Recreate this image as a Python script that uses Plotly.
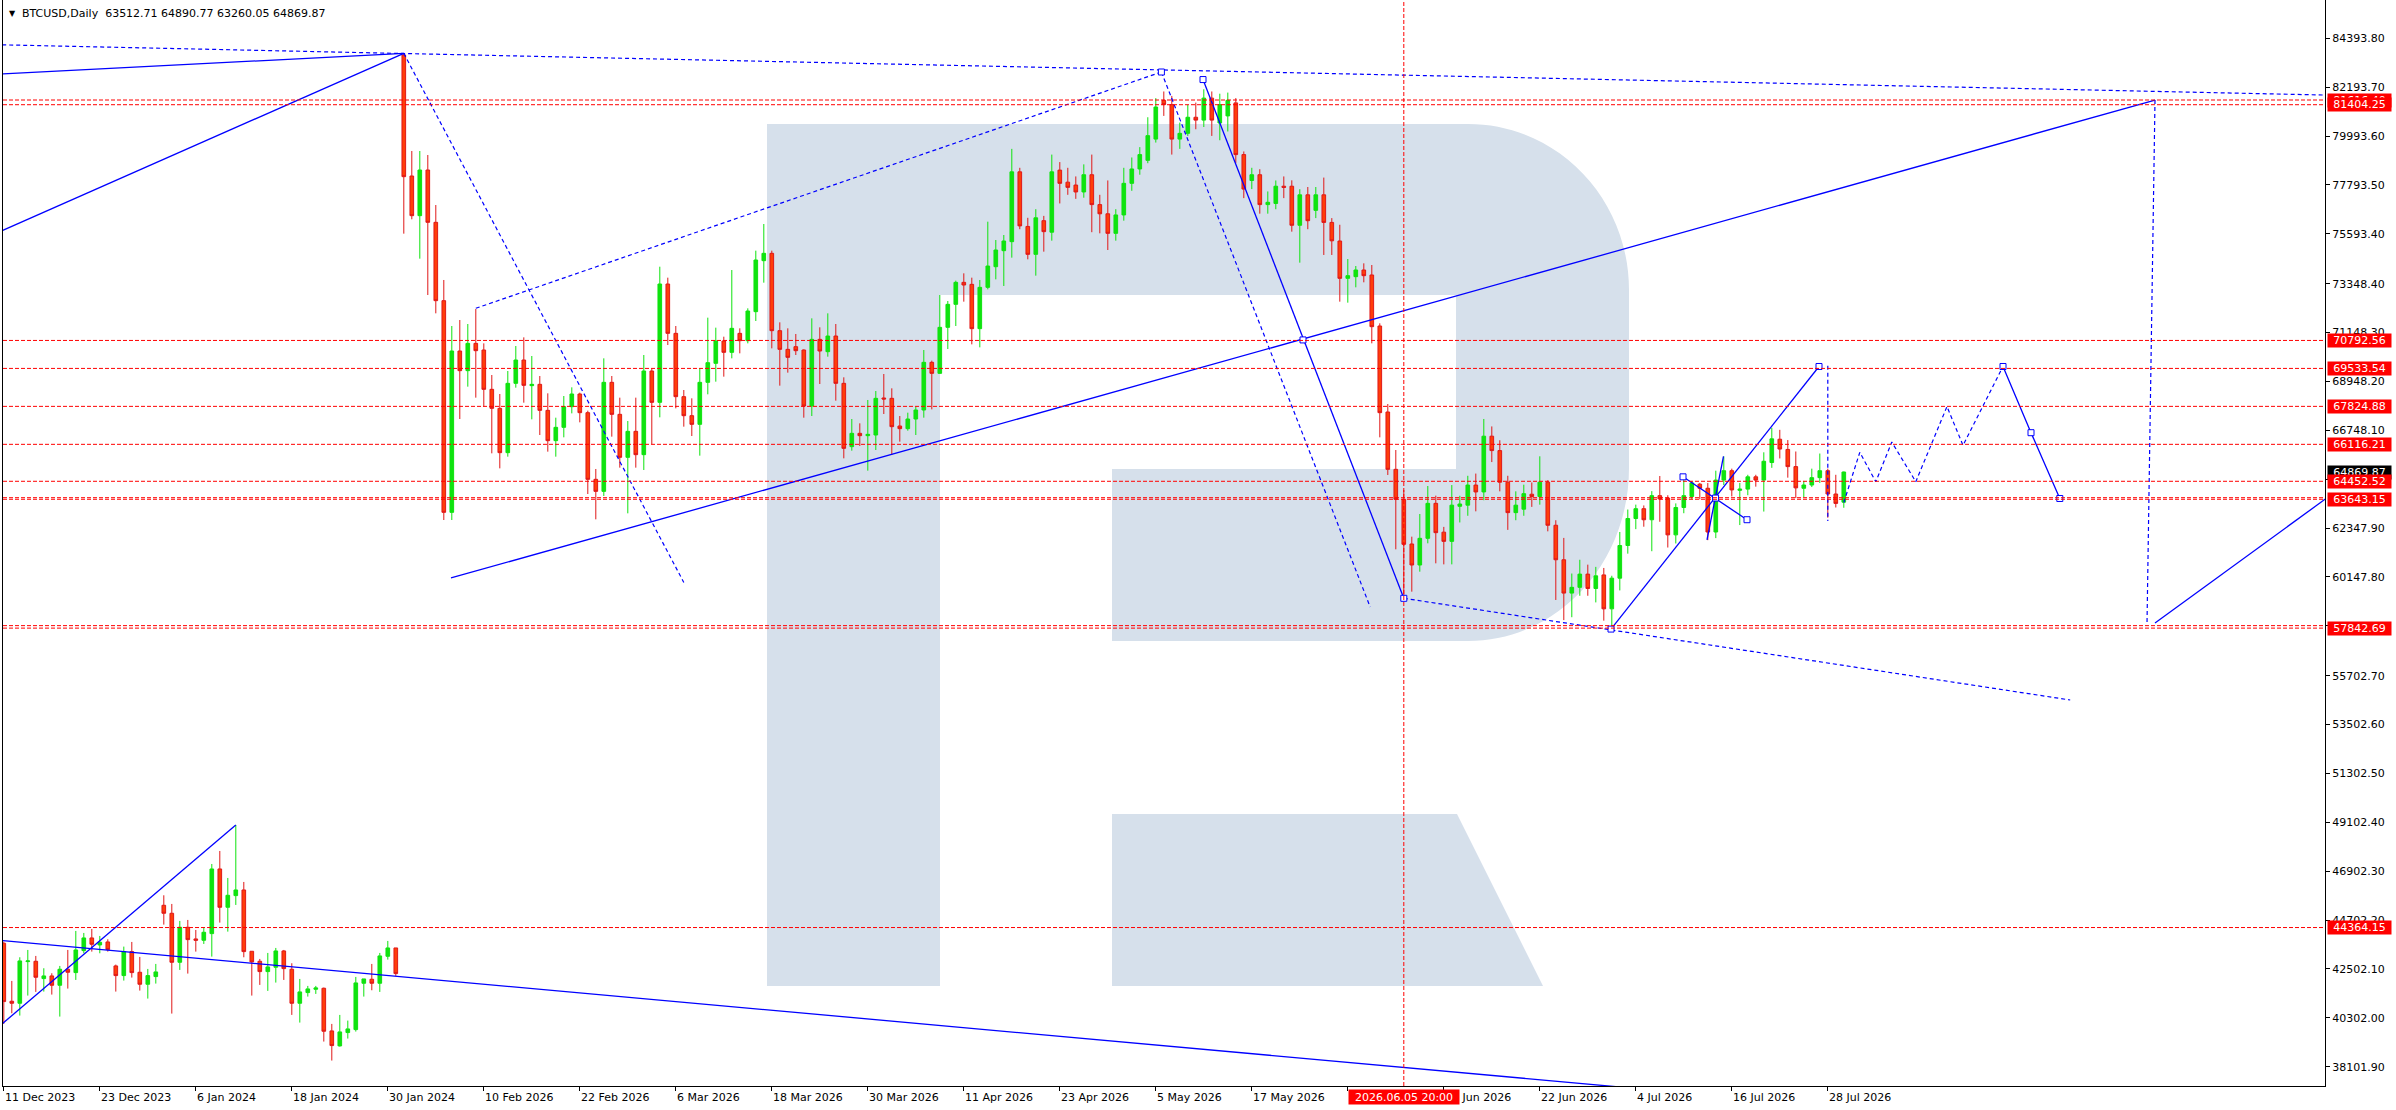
import plotly.graph_objects as go

# ---------------- data ----------------
x_tick_pos = [0, 12, 24, 36, 48, 60, 72, 84, 96, 108, 120, 132, 144, 156, 168, 180, 192, 204, 216, 228]
x_tick_text = ["11 Dec 2023", "23 Dec 2023", "6 Jan 2024", "18 Jan 2024", "30 Jan 2024",
               "10 Feb 2026", "22 Feb 2026", "6 Mar 2026", "18 Mar 2026", "30 Mar 2026",
               "11 Apr 2026", "23 Apr 2026", "5 May 2026", "17 May 2026", "29 May 2026",
               "10 Jun 2026", "22 Jun 2026", "4 Jul 2026", "16 Jul 2026", "28 Jul 2026"]

y_tick_vals = [84393.80, 82193.70, 79993.60, 77793.50, 75593.40, 73348.40, 71148.30, 68948.20,
               66748.10, 64548.00, 62347.90, 60147.80, 57947.70, 55702.70, 53502.60, 51302.50,
               49102.40, 46902.30, 44702.20, 42502.10, 40302.00, 38101.90]

open_ = [43656, 41046, 40956, 42831, 42846, 42066, 42186, 41766, 42486, 42336,
         43326, 43896, 43581, 43716, 42636, 42201, 43281, 42351, 41811, 42156,
         45366, 45006, 42801, 44376, 43851, 43791, 44091, 47001, 45276, 45801,
         46056, 43296, 42846, 42381, 42576, 43311, 42486, 40956, 41436, 41586,
         41631, 39711, 39036, 39636, 39771, 41856, 42036, 41856, 43071, 43446,
         83642, 78195, 76410, 78465, 76110, 72583, 63055, 70317, 69432, 70662,
         70362, 68592, 67736, 65741, 68862, 69912, 68757, 68817, 67646, 66281,
         66881, 67811, 68382, 67541, 64540, 63999, 68907, 67466, 65531, 66701,
         65651, 69417, 68007, 73333, 71112, 68262, 67406, 67016, 68907, 69762,
         70767, 70257, 71112, 70782, 72088, 74384, 74714, 71233, 70392, 70512,
         70362, 67841, 70842, 70287, 70992, 68862, 66011, 66611, 66506, 66536,
         68202, 68187, 66941, 66821, 67256, 67661, 69807, 69312, 71383, 72418,
         73408, 73318, 71323, 73183, 74113, 74834, 75239, 78383, 75925, 74669,
         76184, 75666, 78460, 77917, 77788, 77477, 78253, 76908, 76494, 75614,
         76442, 77865, 78512, 78900, 79857, 81600, 81409, 79857, 80116, 80840,
         80711, 81700, 80581, 80900, 81487, 79159, 77994, 78253, 76908, 76960,
         77735, 77735, 75977, 77348, 76649, 77348, 76106, 75269, 73589, 73664,
         73964, 73739, 71443, 67572, 64991, 63640, 61630, 60684, 61885, 63460,
         62162, 61748, 63327, 63378, 64283, 63973, 66482, 65835, 64412, 63041,
         63197, 63870, 63766, 64412, 62473, 60920, 59420, 59679, 60274, 59627,
         60238, 58711, 60091, 61562, 62776, 63218, 62721, 63806, 63696, 62041,
         63273, 63770, 64322, 64138, 62169, 64506, 64929, 64046, 64101, 64653,
         64506, 65297, 66346, 65886, 65113, 64138, 64285, 64616, 64929, 63880,
         63512.71]
high = [43731, 41961, 43026, 43356, 43086, 42531, 42306, 42636, 43356, 44211,
        44121, 44301, 43986, 43836, 42696, 43506, 43716, 43041, 42501, 42726,
        45816, 45426, 44661, 44706, 44256, 44361, 47226, 47811, 46596, 48981,
        46416, 43296, 42951, 43221, 43446, 43356, 42756, 42051, 41736, 41736,
        41661, 40026, 40431, 40176, 42141, 42051, 42726, 43221, 43761, 43446,
        83717, 79320, 79320, 79140, 76889, 73514, 71443, 71713, 71533, 72208,
        70662, 69237, 68382, 69417, 70542, 70932, 70092, 69192, 68412, 67316,
        68292, 68682, 68442, 67631, 65006, 69987, 69192, 68217, 67166, 68217,
        70137, 69507, 74113, 73619, 71443, 68562, 68187, 69537, 71818, 71368,
        70962, 73963, 71338, 72238, 74834, 76034, 74834, 71608, 71338, 71083,
        70392, 71788, 71383, 72013, 71533, 69132, 67256, 67061, 68112, 68517,
        69282, 68637, 67391, 67541, 67811, 70362, 69882, 72838, 72568, 73484,
        73814, 73619, 73514, 76139, 75314, 75539, 79417, 78564, 76313, 76701,
        76400, 79159, 78822, 78564, 78176, 78719, 79159, 77348, 77995, 76701,
        78564, 79029, 79495, 80840, 81700, 82000, 81800, 80600, 81400, 81500,
        82100, 82000, 81900, 81950, 81700, 79300, 78564, 78500, 77500, 77994,
        78176, 78000, 77600, 77700, 77700, 78124, 76300, 76000, 74459, 74144,
        74264, 74189, 71563, 67932, 65861, 64060, 61960, 62980, 64240, 63805,
        62400, 64283, 63800, 64700, 64800, 67258, 66922, 66300, 64700, 64000,
        64300, 64400, 65577, 64500, 62700, 61903, 60300, 60920, 60700, 60600,
        60551, 60200, 62170, 63181, 63402, 63365, 64009, 64690, 63825, 63457,
        64653, 64469, 64377, 64377, 64929, 65573, 65021, 64377, 64745, 64745,
        65757, 66861, 66769, 66309, 65794, 64469, 65021, 65702, 65021, 64745,
        64890.77]
low = [40026, 40506, 40401, 41301, 41466, 41481, 41346, 40356, 41616, 42006,
       43206, 43281, 43206, 43281, 41481, 41976, 42111, 41526, 41166, 41841,
       44496, 40491, 42456, 42291, 43281, 43626, 43056, 44586, 44181, 45381,
       43026, 41301, 41781, 41511, 41886, 42006, 40431, 40086, 41256, 41376,
       39231, 38376, 39006, 39366, 39681, 41256, 41541, 41466, 42921, 42186,
       75599, 76245, 74474, 72838, 72013, 62710, 62710, 67256, 68712, 68217,
       67811, 65711, 65035, 65561, 68667, 67991, 67241, 66536, 65786, 65561,
       66431, 67511, 67106, 63880, 62740, 63790, 66461, 65066, 63010, 65066,
       64961, 66131, 67331, 70587, 67736, 66911, 66491, 65606, 68367, 68937,
       69162, 69987, 70212, 70662, 71668, 73393, 70437, 68757, 69342, 70137,
       67316, 67391, 68832, 70062, 68082, 65486, 65831, 66041, 64931, 65861,
       67481, 65636, 66236, 66731, 66536, 67316, 67691, 69282, 70407, 71443,
       72538, 70617, 70482, 73093, 73543, 73244, 74519, 75800, 74444, 73709,
       74789, 75284, 76960, 77348, 77167, 77218, 75666, 75614, 74864, 75284,
       76184, 77529, 78253, 78771, 79700, 80900, 79159, 79417, 80000, 80300,
       80400, 80000, 79805, 80200, 78771, 77200, 77606, 76500, 76500, 76700,
       77200, 75690, 74294, 75800, 76300, 74640, 74640, 72538, 72493, 73183,
       73409, 70663, 66431, 64736, 61390, 59200, 59484, 60384, 61660, 60759,
       60713, 60713, 62600, 62900, 63100, 63600, 65318, 64000, 62265, 62700,
       62900, 63300, 63400, 62200, 59110, 58204, 58333, 59300, 59300, 59000,
       58178, 57843, 59540, 61195, 62298, 62408, 61305, 62630, 61471, 61654,
       63015, 63641, 63641, 61802, 61894, 64285, 63770, 62482, 63826, 64211,
       63090, 65058, 65481, 64616, 63696, 63733, 64193, 64377, 62813, 63273,
       63260.05]
close = [41031, 40956, 42861, 42861, 42126, 42186, 41766, 42486, 42351, 43356,
         43896, 43611, 43701, 43371, 42201, 43281, 42336, 41811, 42201, 42366,
         45006, 42801, 44376, 43821, 43791, 44151, 47001, 45276, 45816, 46056,
         43281, 42816, 42381, 42591, 43311, 42516, 40956, 41466, 41601, 41646,
         39696, 39051, 39666, 39801, 41871, 42051, 41856, 43086, 43446, 42291,
         78165, 76410, 78465, 76110, 72583, 63055, 70317, 69432, 70662, 70332,
         68592, 67736, 65741, 68862, 69912, 68772, 68817, 67646, 66281, 66881,
         67811, 68382, 67541, 64540, 63999, 68907, 67466, 65531, 66701, 65651,
         69417, 68007, 73333, 71112, 68262, 67406, 67016, 68907, 69792, 70767,
         70257, 71338, 70782, 72118, 74414, 74714, 71233, 70392, 70032, 70332,
         67841, 70842, 70317, 70992, 68862, 65936, 66611, 66506, 66566, 68187,
         68157, 66911, 66821, 67256, 67661, 69807, 69312, 71383, 72418, 73408,
         73288, 71323, 73183, 74143, 74864, 75269, 78383, 75950, 74669, 76313,
         75690, 78383, 77865, 77684, 77477, 78253, 76908, 76494, 75614, 76442,
         77865, 78512, 79159, 80012, 81300, 81410, 79857, 80116, 80840, 80711,
         81700, 80711, 81409, 81600, 79159, 77606, 78253, 76908, 77011, 77735,
         77684, 75977, 77348, 76183, 77348, 76106, 75278, 73589, 73709, 73964,
         73709, 71413, 67542, 64991, 63640, 61615, 60684, 61885, 63460, 62140,
         61748, 63378, 63430, 64283, 63973, 66482, 65835, 64412, 63041, 63378,
         63895, 63766, 64412, 62473, 60920, 59420, 59679, 60274, 59627, 60196,
         58711, 60091, 61562, 62776, 63218, 62721, 63806, 63659, 62041, 63273,
         63806, 64377, 64138, 62169, 64506, 64929, 64064, 64101, 64653, 64506,
         65353, 66364, 65904, 65113, 64156, 64285, 64616, 64929, 63880, 63457,
         64869.87]
bar_index = list(range(len(open_)))

# horizontal levels (red dashed) and their price labels
level_values = [81616.40, 81404.25, 70792.56, 69533.54, 67824.88, 66116.21, 64452.52,
                63714.00, 63643.15, 57955.00, 57842.69, 44364.15]
label_values = [81616.40, 81404.25, 70792.56, 69533.54, 67824.88, 66116.21, 64452.52,
                63643.15, 57842.69, 44364.15]
last_price = 64869.87
vline_bar = 175
vline_text = "2026.06.05 20:00"

# analysis drawings (bar index, price)
solid_lines = [
    [(-0.2, 75740), (50, 83717)],
    [(-0.2, 82787), (50, 83717)],
    [(55.9, 60100), (268.9, 81616)],
    [(149.9, 82537), (175, 59185)],
    [(268.9, 58074), (290.6, 63760)],
    [(200.9, 57800), (226.9, 69620)],
    [(209.9, 64653), (217.9, 62723)],
    [(212.9, 61810), (214.96, 65573)],
    [(249.9, 69620), (253.4, 66640), (257.0, 63678)],
    [(-0.2, 40030), (29, 48981)],
    [(-0.2, 43777), (210, 36925)],
]
dashed_lines = [
    [(-0.2, 84100), (290.6, 81835)],
    [(50, 83717), (85, 59900)],
    [(59, 72240), (144.7, 82877)],
    [(144.7, 82877), (170.8, 58793)],
    [(175, 59185), (258.3, 54607)],
    [(268.9, 81616), (267.9, 58030)],
    [(228, 69655), (228, 62670)],
    [(230, 63500), (232, 65757), (234, 64432), (236, 66217), (239, 64432),
     (242.9, 67817), (244.9, 66069), (249.9, 69620)],
]
anchor_points = [(144.7, 82877), (149.9, 82537), (162.4, 70816), (175, 59185),
                 (200.9, 57800), (209.9, 64653), (213.97, 63698), (217.9, 62723),
                 (226.9, 69620), (249.9, 69620), (253.4, 66640), (257.0, 63678)]

title_text = "BTCUSD,Daily  63512.71 64890.77 63260.05 64869.87"

# ---------------- layout geometry ----------------
W, H = 2396, 1110
ML, MR, MT, MB = 3, 71, 0, 24
PW, PH = W - ML - MR, H - MT - MB
X_RANGE = [-0.1, 290.15]
Y_RANGE = [37231, 86118]
FONT = "DejaVu Sans"
BLUE = "#0000ff"
RED = "#ff0000"


def px(xp):
    return (xp - ML) / PW


def py(yp):
    return 1 - (yp - MT) / PH


def P(a, b):
    return f"{px(a):.5f},{py(b):.5f}"


fig = go.Figure()

fig.add_trace(go.Candlestick(
    x=bar_index, open=open_, high=high, low=low, close=close,
    increasing=dict(line=dict(color="#0fe30f", width=1), fillcolor="#0fe30f"),
    decreasing=dict(line=dict(color="#e01818", width=1), fillcolor="#ff3d0a"),
    whiskerwidth=0, showlegend=False, hoverinfo="skip",
))

for seg in solid_lines:
    fig.add_trace(go.Scatter(x=[p[0] for p in seg], y=[p[1] for p in seg], mode="lines",
                             line=dict(color=BLUE, width=1.3), showlegend=False, hoverinfo="skip"))
for seg in dashed_lines:
    fig.add_trace(go.Scatter(x=[p[0] for p in seg], y=[p[1] for p in seg], mode="lines",
                             line=dict(color=BLUE, width=1.2, dash="4px,3px"),
                             showlegend=False, hoverinfo="skip"))
fig.add_trace(go.Scatter(x=[p[0] for p in anchor_points], y=[p[1] for p in anchor_points],
                         mode="markers",
                         marker=dict(symbol="square", size=6, color="white",
                                     line=dict(color=BLUE, width=1)),
                         showlegend=False, hoverinfo="skip"))

shapes = []
# watermark "R"
wm_color = "rgb(214,224,235)"
r_path = ("M " + P(767, 124) + " L " + P(1468, 124) + " C " + P(1557, 124) + " " + P(1629, 198) + " " +
          P(1629, 290) + " L " + P(1629, 468) + " C " + P(1629, 564) + " " + P(1557, 641) + " " +
          P(1468, 641) + " L " + P(1112, 641) + " L " + P(1112, 469) + " L " + P(1456, 469) +
          " L " + P(1456, 295) + " L " + P(940, 295) + " L " + P(940, 986) + " L " + P(767, 986) + " Z")
leg_path = "M " + P(1112, 814) + " L " + P(1457, 814) + " L " + P(1543, 986) + " L " + P(1112, 986) + " Z"
for pth in (r_path, leg_path):
    shapes.append(dict(type="path", path=pth, xref="paper", yref="paper",
                       fillcolor=wm_color, line=dict(width=0), layer="below"))

for v in level_values:
    shapes.append(dict(type="line", xref="paper", yref="y", x0=0, x1=1, y0=v, y1=v,
                       line=dict(color=RED, width=1, dash="4px,2px"), layer="above"))
shapes.append(dict(type="line", xref="x", yref="paper", x0=vline_bar, x1=vline_bar, y0=0, y1=1,
                   line=dict(color=RED, width=1, dash="4px,2px"), layer="above"))

annotations = []
# title
annotations.append(dict(text="▼", x=px(7), y=py(13), xref="paper", yref="paper",
                        xanchor="left", yanchor="middle", showarrow=False,
                        font=dict(family=FONT, size=8, color="black")))
annotations.append(dict(text=title_text, x=px(20), y=py(13), xref="paper", yref="paper",
                        xanchor="left", yanchor="middle", showarrow=False,
                        font=dict(family=FONT, size=11, color="black")))
# x tick labels (left aligned at tick)
for pos, txt in zip(x_tick_pos, x_tick_text):
    annotations.append(dict(text=txt, x=pos, y=py(1097), xref="x", yref="paper",
                            xanchor="left", yanchor="middle", showarrow=False, borderpad=0,
                            font=dict(family=FONT, size=11, color="black")))
# price label boxes
for v in label_values:
    annotations.append(dict(text=f"{v:.2f}", x=1, y=v, xref="paper", yref="y", xanchor="left",
                            yanchor="middle", xshift=2, showarrow=False, bgcolor=RED,
                            width=61, height=11, borderpad=1,
                            font=dict(family=FONT, size=11, color="white")))
    if v == 66116.21:
        annotations.append(dict(text=f"{last_price:.2f}", x=1, y=last_price, xref="paper", yref="y",
                                xanchor="left", yanchor="middle", xshift=2, showarrow=False,
                                bgcolor="black", width=61, height=11, borderpad=1,
                                font=dict(family=FONT, size=11, color="white")))
annotations.append(dict(text=vline_text, x=vline_bar, y=py(1097), xref="x", yref="paper",
                        xanchor="center", yanchor="middle", showarrow=False, bgcolor=RED,
                        width=108, height=12, borderpad=1,
                        font=dict(family=FONT, size=11, color="white")))

fig.update_layout(
    width=W, height=H,
    margin=dict(l=ML, r=MR, t=MT, b=MB, pad=0),
    paper_bgcolor="white", plot_bgcolor="white",
    showlegend=False,
    shapes=shapes, annotations=annotations,
    hovermode=False,
    boxgap=0.35,
    xaxis=dict(range=X_RANGE, rangeslider=dict(visible=False), showgrid=False, zeroline=False,
               tickmode="array", tickvals=x_tick_pos, ticktext=[""] * len(x_tick_pos),
               ticks="outside", ticklen=4, tickcolor="black", showticklabels=False,
               showline=True, linecolor="black", linewidth=1, mirror=True, fixedrange=True),
    yaxis=dict(range=Y_RANGE, side="right", showgrid=False, zeroline=False,
               tickmode="array", tickvals=y_tick_vals, ticktext=[f"{v:.2f}" for v in y_tick_vals],
               ticks="outside", ticklen=4, tickcolor="black",
               tickfont=dict(family=FONT, size=11, color="black"),
               showline=True, linecolor="black", linewidth=1, mirror=True, fixedrange=True),
)

fig.write_html("out.html", config={"displayModeBar": False},
               post_script="document.body.style.margin='0px';document.body.style.overflow='hidden';")
